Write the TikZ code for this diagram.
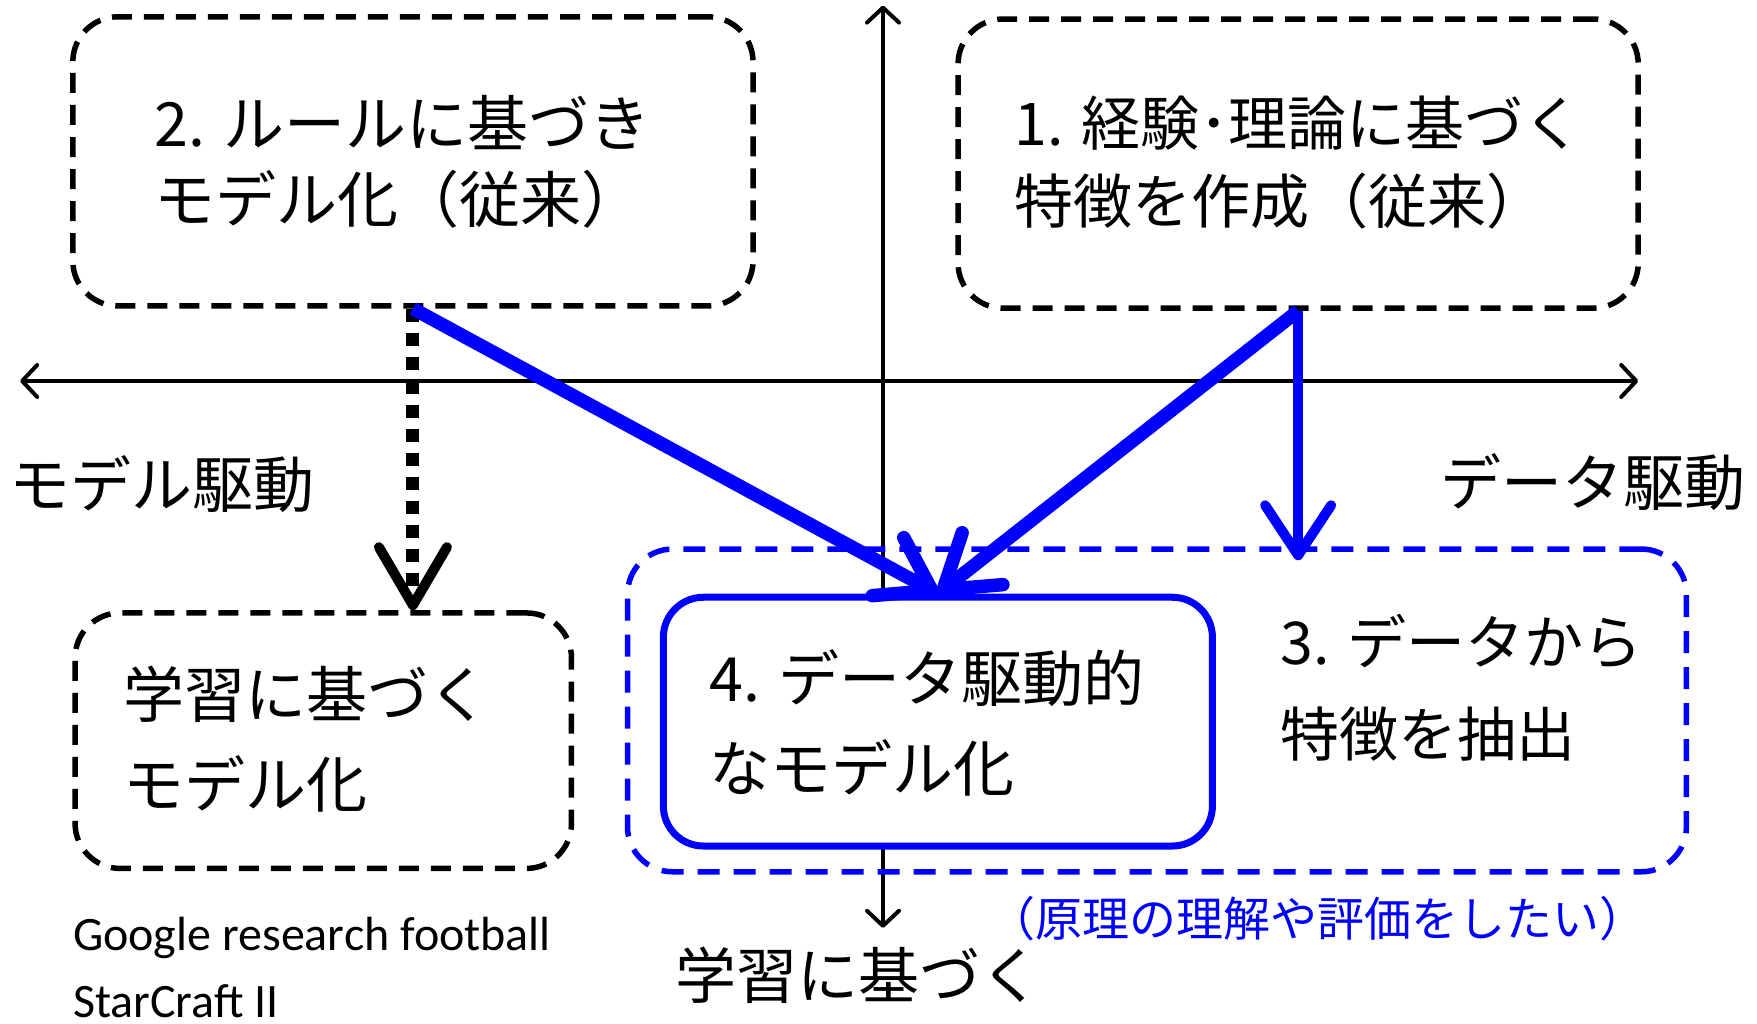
\documentclass[tikz,border=0pt]{standalone}
\usepackage{fontspec}
\setmainfont{Carlito}
\newfontfamily\jp{Noto Sans CJK JP}
\usetikzlibrary{arrows.meta,fit}
\definecolor{pblue}{RGB}{0,0,255}
\begin{document}
\begin{tikzpicture}[x=1.1205pt,y=-1.1205pt,
  dbox/.style={draw=black,line width=5.5pt,dash pattern=on 20pt off 12pt,rounded corners=45pt,inner sep=0pt},
  bdbox/.style={draw=pblue,line width=5.5pt,dash pattern=on 22pt off 14pt,rounded corners=45pt,inner sep=0pt},
  sbox/.style={draw=pblue,line width=7pt,rounded corners=40pt,fill=white,inner sep=0pt},
  jtext/.style={font=\jp\fontsize{61}{#1}\selectfont,align=left,anchor=west,inner sep=0pt},
  jtext/.default=78,
  jsmall/.style={font=\jp\fontsize{59}{#1}\selectfont,align=left,anchor=west,inner sep=0pt},
  axisline/.style={line width=4pt,{Straight Barb[length=15pt,width=32pt,round]}-{Straight Barb[length=15pt,width=32pt,round]}},
  barrow/.style={draw=pblue,line width=13.5pt,-{Straight Barb[length=50pt,width=66pt,round]}},
  darrow/.style={draw=black,line width=13pt,dash pattern=on 13pt off 11pt,-{Straight Barb[length=58pt,width=68pt,round,line width=10pt]}},
  note/.style={font=\jp\fontsize{47}{54}\selectfont,text=pblue,anchor=west,inner sep=0pt},
  latin/.style={font=\fontsize{48}{67}\selectfont,align=left,anchor=west,inner sep=0pt}
]
\useasboundingbox (0,0) rectangle (1568,913);
% axes
\coordinate (axL) at (18,340);
\coordinate (axR) at (1462,340);
\coordinate (axT) at (788,5);
\coordinate (axB) at (788,828);
\draw[axisline] (axL) -- (axR);
\draw[axisline] (axB) -- (axT);
% boxes
\node[dbox, fit={(65,15) (672,273)}] (b2) {};
\node[dbox, fit={(855,17) (1462,275)}] (b1) {};
\node[dbox, fit={(67,547) (510,775)}] (bl) {};
\node[bdbox, fit={(560,490) (1505,778)}] (b3) {};
\node[sbox, fit={(592,533) (1082,755)}] (b4) {};
% texts
\node[jtext=76] (t2) at (138,144) {2. ルールに基づき\\モデル化（従来）};
\node[jsmall=78] (t1) at (905,145) {1. 経験･理論に基づく\\特徴を作成（従来）};
\node[jtext=90] (tl) at (110,660) {学習に基づく\\モデル化};
\node[jtext=90] (t4) at (633,645) {4. データ駆動的\\なモデル化};
\node[jsmall=92] (t3) at (1143,614) {3. データから\\特徴を抽出};
\node[jtext, anchor=west] (lm) at (8,432) {モデル駆動};
\node[jtext, anchor=east] (ld) at (1558,430) {データ駆動};
\node[jtext, anchor=west] (lb) at (603,870) {学習に基づく};
\node[note] (nt) at (882,820) {（原理の理解や評価をしたい）};
\node[latin] (gg) at (65,863) {Google research football\\StarCraft II};
% connectors
\coordinate (b3top) at (b1.south |- 0,500);
\draw[darrow] (b2.south) -- (b2.south |- bl.north);
\draw[barrow] (b2.south) -- (b4.north);
\draw[barrow] (b1.south) -- (b4.north);
\draw[barrow, line width=10pt] (b1.south) -- (b3top);
\end{tikzpicture}
\end{document}
